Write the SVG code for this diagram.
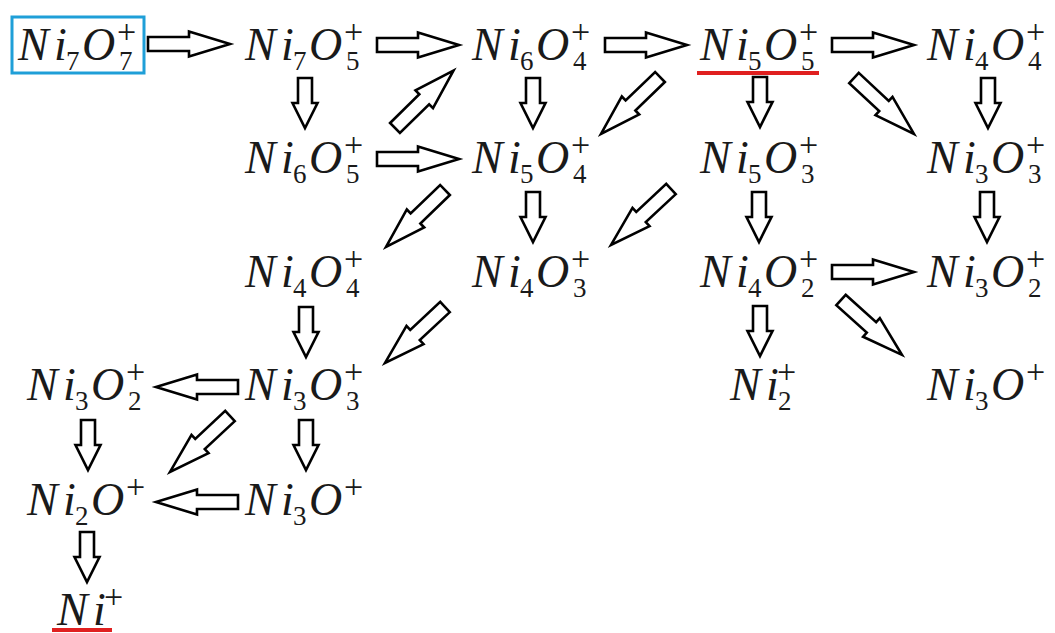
<svg xmlns="http://www.w3.org/2000/svg" width="1055" height="633" viewBox="0 0 1055 633">
<rect width="1055" height="633" fill="#fff"/>
<g id="connectors" fill="#fff" stroke="#000" stroke-width="2.6" stroke-linejoin="miter">
<path d="M0,-7 H41 V-12.5 L82,0 L41,12.5 V7 H0 Z" transform="translate(148,44)"/>
<path d="M0,-7 H41 V-12.5 L82,0 L41,12.5 V7 H0 Z" transform="translate(377,45)"/>
<path d="M0,-7 H41 V-12.5 L82,0 L41,12.5 V7 H0 Z" transform="translate(605,45)"/>
<path d="M0,-7 H41 V-12.5 L82,0 L41,12.5 V7 H0 Z" transform="translate(832,45)"/>
<path d="M0,-7 H41 V-12.5 L82,0 L41,12.5 V7 H0 Z" transform="translate(377,159)"/>
<path d="M0,-7 H41 V-12.5 L82,0 L41,12.5 V7 H0 Z" transform="translate(832,272)"/>
<path d="M0,-7 H41 V-12.5 L82,0 L41,12.5 V7 H0 Z" transform="translate(238,387) rotate(180)"/>
<path d="M0,-7 H41 V-12.5 L82,0 L41,12.5 V7 H0 Z" transform="translate(238,502) rotate(180)"/>
<path d="M-7,0 V25 H-12.5 L0,50 L12.5,25 H7 V0 Z" transform="translate(305,78)"/>
<path d="M-7,0 V25 H-12.5 L0,50 L12.5,25 H7 V0 Z" transform="translate(533,78)"/>
<path d="M-7,0 V25 H-12.5 L0,50 L12.5,25 H7 V0 Z" transform="translate(760,77)"/>
<path d="M-7,0 V25 H-12.5 L0,50 L12.5,25 H7 V0 Z" transform="translate(988,78)"/>
<path d="M-7,0 V25 H-12.5 L0,50 L12.5,25 H7 V0 Z" transform="translate(533,192)"/>
<path d="M-7,0 V25 H-12.5 L0,50 L12.5,25 H7 V0 Z" transform="translate(759,192)"/>
<path d="M-7,0 V25 H-12.5 L0,50 L12.5,25 H7 V0 Z" transform="translate(987,192)"/>
<path d="M-7,0 V25 H-12.5 L0,50 L12.5,25 H7 V0 Z" transform="translate(306,307)"/>
<path d="M-7,0 V25 H-12.5 L0,50 L12.5,25 H7 V0 Z" transform="translate(760,306)"/>
<path d="M-7,0 V25 H-12.5 L0,50 L12.5,25 H7 V0 Z" transform="translate(88,420)"/>
<path d="M-7,0 V25 H-12.5 L0,50 L12.5,25 H7 V0 Z" transform="translate(306,420)"/>
<path d="M-7,0 V25 H-12.5 L0,50 L12.5,25 H7 V0 Z" transform="translate(87,532)"/>
<path d="M0,-7 H41 V-12.5 L82,0 L41,12.5 V7 H0 Z" transform="translate(395,128) rotate(-44.5)"/>
<path d="M0,-7 H41 V-12.5 L82,0 L41,12.5 V7 H0 Z" transform="translate(660,77) rotate(136)"/>
<path d="M0,-7 H41 V-12.5 L82,0 L41,12.5 V7 H0 Z" transform="translate(854,78) rotate(43)"/>
<path d="M0,-7 H41 V-12.5 L82,0 L41,12.5 V7 H0 Z" transform="translate(445,190) rotate(136)"/>
<path d="M0,-7 H41 V-12.5 L82,0 L41,12.5 V7 H0 Z" transform="translate(671,189) rotate(137)"/>
<path d="M0,-7 H41 V-12.5 L82,0 L41,12.5 V7 H0 Z" transform="translate(445,307) rotate(137)"/>
<path d="M0,-7 H41 V-12.5 L82,0 L41,12.5 V7 H0 Z" transform="translate(230,416) rotate(137)"/>
<path d="M0,-7 H41 V-12.5 L82,0 L41,12.5 V7 H0 Z" transform="translate(841,300) rotate(42)"/>
</g>
<g id="n1">
<rect x="12" y="17" width="132" height="56" fill="none" stroke="#1f9fd8" stroke-width="3"/>
<text font-family="Liberation Serif" font-style="italic" font-size="46" fill="#1a1a1a"><tspan x="18" y="60">N</tspan><tspan x="54" y="60">i</tspan><tspan font-style="normal" font-size="27" x="66" y="70">7</tspan><tspan x="82" y="60">O</tspan><tspan font-style="normal" font-size="34" x="117" y="43">+</tspan><tspan font-style="normal" font-size="27" x="119" y="70">7</tspan></text>
</g>
<g id="n2"><text font-family="Liberation Serif" font-style="italic" font-size="46" fill="#1a1a1a"><tspan x="245" y="60">N</tspan><tspan x="281" y="60">i</tspan><tspan font-style="normal" font-size="27" x="293" y="70">7</tspan><tspan x="309" y="60">O</tspan><tspan font-style="normal" font-size="34" x="344" y="43">+</tspan><tspan font-style="normal" font-size="27" x="346" y="70">5</tspan></text></g>
<g id="n3"><text font-family="Liberation Serif" font-style="italic" font-size="46" fill="#1a1a1a"><tspan x="472" y="60">N</tspan><tspan x="508" y="60">i</tspan><tspan font-style="normal" font-size="27" x="520" y="70">6</tspan><tspan x="536" y="60">O</tspan><tspan font-style="normal" font-size="34" x="571" y="43">+</tspan><tspan font-style="normal" font-size="27" x="573" y="70">4</tspan></text></g>
<g id="n4"><text font-family="Liberation Serif" font-style="italic" font-size="46" fill="#1a1a1a"><tspan x="700" y="60">N</tspan><tspan x="736" y="60">i</tspan><tspan font-style="normal" font-size="27" x="748" y="70">5</tspan><tspan x="764" y="60">O</tspan><tspan font-style="normal" font-size="34" x="799" y="43">+</tspan><tspan font-style="normal" font-size="27" x="801" y="70">5</tspan></text>
<line x1="697" y1="73" x2="819" y2="73" stroke="#e02020" stroke-width="4"/></g>
<g id="n5"><text font-family="Liberation Serif" font-style="italic" font-size="46" fill="#1a1a1a"><tspan x="927" y="60">N</tspan><tspan x="963" y="60">i</tspan><tspan font-style="normal" font-size="27" x="975" y="70">4</tspan><tspan x="991" y="60">O</tspan><tspan font-style="normal" font-size="34" x="1026" y="43">+</tspan><tspan font-style="normal" font-size="27" x="1028" y="70">4</tspan></text></g>
<g id="n6"><text font-family="Liberation Serif" font-style="italic" font-size="46" fill="#1a1a1a"><tspan x="245" y="173">N</tspan><tspan x="281" y="173">i</tspan><tspan font-style="normal" font-size="27" x="293" y="183">6</tspan><tspan x="309" y="173">O</tspan><tspan font-style="normal" font-size="34" x="344" y="156">+</tspan><tspan font-style="normal" font-size="27" x="346" y="183">5</tspan></text></g>
<g id="n7"><text font-family="Liberation Serif" font-style="italic" font-size="46" fill="#1a1a1a"><tspan x="472" y="173">N</tspan><tspan x="508" y="173">i</tspan><tspan font-style="normal" font-size="27" x="520" y="183">5</tspan><tspan x="536" y="173">O</tspan><tspan font-style="normal" font-size="34" x="571" y="156">+</tspan><tspan font-style="normal" font-size="27" x="573" y="183">4</tspan></text></g>
<g id="n8"><text font-family="Liberation Serif" font-style="italic" font-size="46" fill="#1a1a1a"><tspan x="700" y="173">N</tspan><tspan x="736" y="173">i</tspan><tspan font-style="normal" font-size="27" x="748" y="183">5</tspan><tspan x="764" y="173">O</tspan><tspan font-style="normal" font-size="34" x="799" y="156">+</tspan><tspan font-style="normal" font-size="27" x="801" y="183">3</tspan></text></g>
<g id="n9"><text font-family="Liberation Serif" font-style="italic" font-size="46" fill="#1a1a1a"><tspan x="927" y="173">N</tspan><tspan x="963" y="173">i</tspan><tspan font-style="normal" font-size="27" x="975" y="183">3</tspan><tspan x="991" y="173">O</tspan><tspan font-style="normal" font-size="34" x="1026" y="156">+</tspan><tspan font-style="normal" font-size="27" x="1028" y="183">3</tspan></text></g>
<g id="n10"><text font-family="Liberation Serif" font-style="italic" font-size="46" fill="#1a1a1a"><tspan x="245" y="287">N</tspan><tspan x="281" y="287">i</tspan><tspan font-style="normal" font-size="27" x="293" y="297">4</tspan><tspan x="309" y="287">O</tspan><tspan font-style="normal" font-size="34" x="344" y="270">+</tspan><tspan font-style="normal" font-size="27" x="346" y="297">4</tspan></text></g>
<g id="n11"><text font-family="Liberation Serif" font-style="italic" font-size="46" fill="#1a1a1a"><tspan x="472" y="287">N</tspan><tspan x="508" y="287">i</tspan><tspan font-style="normal" font-size="27" x="520" y="297">4</tspan><tspan x="536" y="287">O</tspan><tspan font-style="normal" font-size="34" x="571" y="270">+</tspan><tspan font-style="normal" font-size="27" x="573" y="297">3</tspan></text></g>
<g id="n12"><text font-family="Liberation Serif" font-style="italic" font-size="46" fill="#1a1a1a"><tspan x="700" y="287">N</tspan><tspan x="736" y="287">i</tspan><tspan font-style="normal" font-size="27" x="748" y="297">4</tspan><tspan x="764" y="287">O</tspan><tspan font-style="normal" font-size="34" x="799" y="270">+</tspan><tspan font-style="normal" font-size="27" x="801" y="297">2</tspan></text></g>
<g id="n13"><text font-family="Liberation Serif" font-style="italic" font-size="46" fill="#1a1a1a"><tspan x="927" y="287">N</tspan><tspan x="963" y="287">i</tspan><tspan font-style="normal" font-size="27" x="975" y="297">3</tspan><tspan x="991" y="287">O</tspan><tspan font-style="normal" font-size="34" x="1026" y="270">+</tspan><tspan font-style="normal" font-size="27" x="1028" y="297">2</tspan></text></g>
<g id="n14"><text font-family="Liberation Serif" font-style="italic" font-size="46" fill="#1a1a1a"><tspan x="27" y="400">N</tspan><tspan x="63" y="400">i</tspan><tspan font-style="normal" font-size="27" x="75" y="410">3</tspan><tspan x="91" y="400">O</tspan><tspan font-style="normal" font-size="34" x="126" y="383">+</tspan><tspan font-style="normal" font-size="27" x="128" y="410">2</tspan></text></g>
<g id="n15"><text font-family="Liberation Serif" font-style="italic" font-size="46" fill="#1a1a1a"><tspan x="245" y="400">N</tspan><tspan x="281" y="400">i</tspan><tspan font-style="normal" font-size="27" x="293" y="410">3</tspan><tspan x="309" y="400">O</tspan><tspan font-style="normal" font-size="34" x="344" y="383">+</tspan><tspan font-style="normal" font-size="27" x="346" y="410">3</tspan></text></g>
<g id="n16"><text font-family="Liberation Serif" font-style="italic" font-size="46" fill="#1a1a1a"><tspan x="730" y="400">N</tspan><tspan x="766" y="400">i</tspan><tspan font-style="normal" font-size="34" x="777" y="383">+</tspan><tspan font-style="normal" font-size="27" x="778" y="410">2</tspan></text></g>
<g id="n17"><text font-family="Liberation Serif" font-style="italic" font-size="46" fill="#1a1a1a"><tspan x="927" y="400">N</tspan><tspan x="963" y="400">i</tspan><tspan font-style="normal" font-size="27" x="975" y="410">3</tspan><tspan x="991" y="400">O</tspan><tspan font-style="normal" font-size="34" x="1026" y="383">+</tspan></text></g>
<g id="n18"><text font-family="Liberation Serif" font-style="italic" font-size="46" fill="#1a1a1a"><tspan x="27" y="515">N</tspan><tspan x="63" y="515">i</tspan><tspan font-style="normal" font-size="27" x="75" y="525">2</tspan><tspan x="91" y="515">O</tspan><tspan font-style="normal" font-size="34" x="126" y="498">+</tspan></text></g>
<g id="n19"><text font-family="Liberation Serif" font-style="italic" font-size="46" fill="#1a1a1a"><tspan x="245" y="515">N</tspan><tspan x="281" y="515">i</tspan><tspan font-style="normal" font-size="27" x="293" y="525">3</tspan><tspan x="309" y="515">O</tspan><tspan font-style="normal" font-size="34" x="344" y="498">+</tspan></text></g>
<g id="n20"><text font-family="Liberation Serif" font-style="italic" font-size="46" fill="#1a1a1a"><tspan x="57" y="625">N</tspan><tspan x="93" y="625">i</tspan><tspan font-style="normal" font-size="34" x="104" y="608">+</tspan></text>
<line x1="52" y1="630" x2="112" y2="630" stroke="#e02020" stroke-width="4"/></g>
</svg>
